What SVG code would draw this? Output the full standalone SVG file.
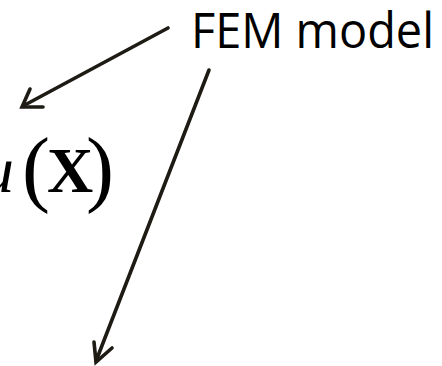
<svg xmlns="http://www.w3.org/2000/svg" width="442" height="366" viewBox="0 0 442 366">
<style>
.conn{fill:none;stroke:#1e1b14;stroke-width:3.6;stroke-linecap:round;stroke-linejoin:miter}
.lbl{font-family:"Open Sans","Noto Sans",sans-serif;font-size:49px;fill:#000}
.math{font-family:"Liberation Serif",serif;font-size:66px;fill:#000}
</style>
<rect width="442" height="366" fill="#fff"/>
<g id="fem-model">
<text class="lbl" x="191" y="48" textLength="243" lengthAdjust="spacingAndGlyphs">FEM model</text>
</g>
<g id="u-of-X">
<text class="math" y="192"><tspan x="-19" font-style="italic">u</tspan><tspan x="22" font-size="84" dy="4">(</tspan><tspan x="47" font-weight="bold" font-size="64" dy="-4">X</tspan><tspan x="86" font-size="84" dy="4">)</tspan></text>
</g>
<g id="bottom-left">
<text class="math" x="-14" y="362" font-size="70">:</text>
</g>
<g id="connectors">
<path class="conn" d="M168,28 L23,106"/>
<path class="conn" d="M30,89 L22,107 L43,107"/>
<path class="conn" d="M209,70 L96,361"/>
<path class="conn" d="M94,342 L96,362 L112,348"/>
</g>
</svg>
